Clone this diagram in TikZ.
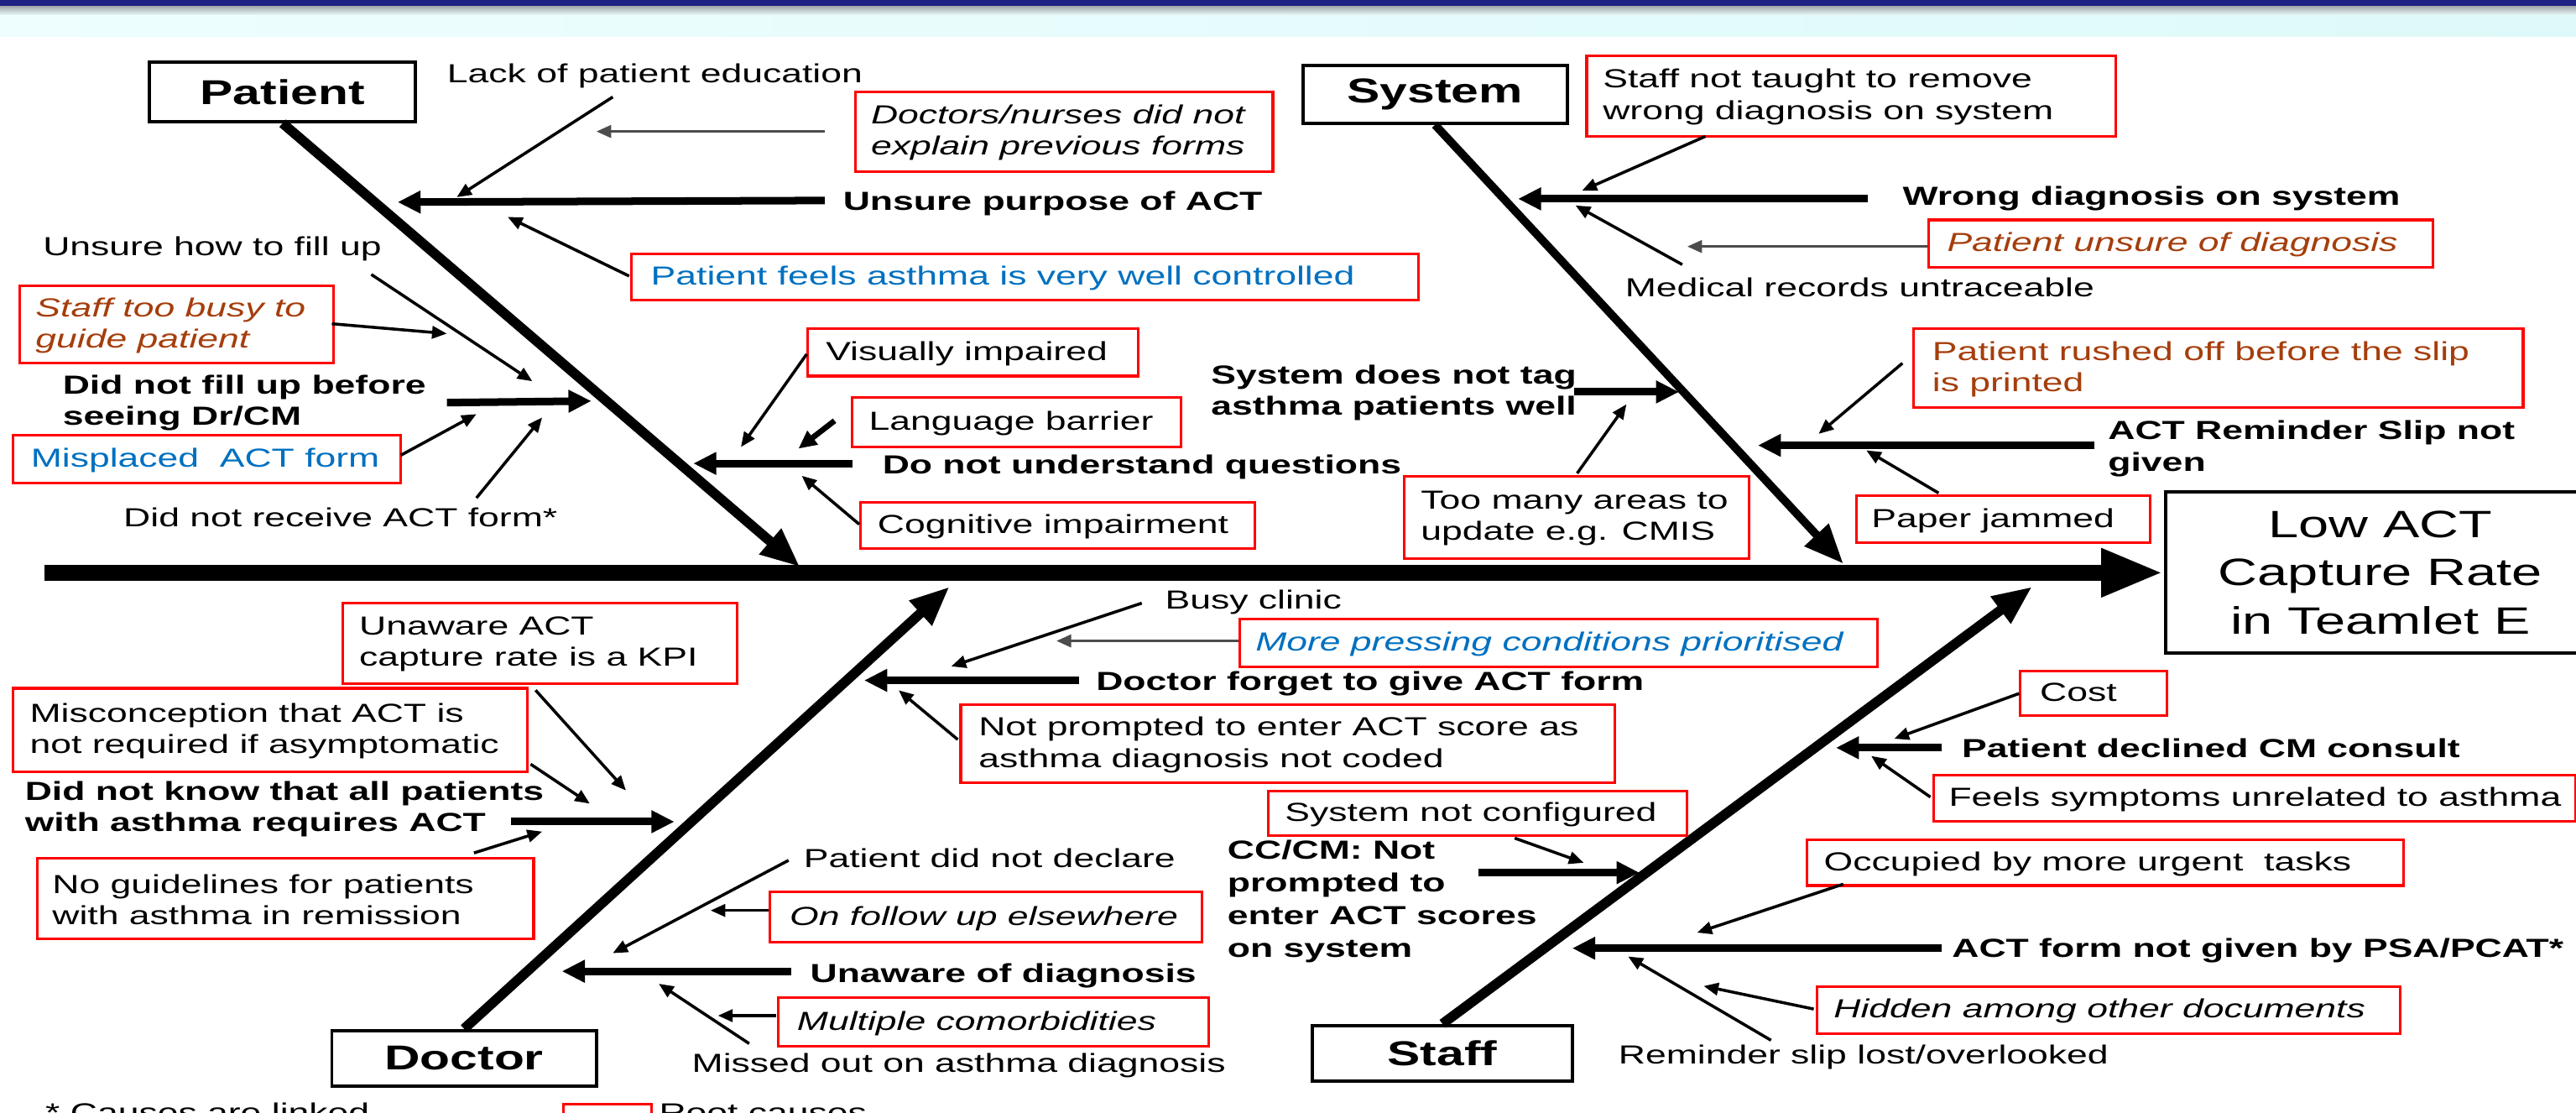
\documentclass[tikz,border=0pt]{standalone}
\usepackage{fontspec}
\setmainfont{Liberation Sans}[FakeStretch=1.43]
\usetikzlibrary{arrows.meta}
\definecolor{rbred}{RGB}{255,0,0}
\definecolor{txblue}{RGB}{0,112,192}
\definecolor{txbrown}{RGB}{165,62,12}
\definecolor{navyband}{RGB}{30,34,130}
\definecolor{cyanL}{RGB}{238,254,254}
\definecolor{cyanR}{RGB}{222,249,249}
\definecolor{shadowgr}{RGB}{165,172,176}
\newcommand\fsn{\fontsize{15.9}{19}\selectfont}
\newcommand\rb[5]{\node[rbox, minimum width={#4-#2}, minimum height={#5-#3}] (#1) at (#2,#3) {};}
\newcommand\arrw[4]{\coordinate (#2s) at (#3); \coordinate (#2e) at (#4); \draw[#1] (#2s) -- (#2e);}
\begin{document}
\begin{tikzpicture}[x=1pt,y=-1pt,
  lbl/.style={inner sep=0pt, align=left, font=\fsn},
  bl/.style={lbl, font=\fsn\bfseries},
  it/.style={lbl, font=\fsn\itshape},
  rbox/.style={draw=rbred, line width=1.6pt, inner sep=0pt, anchor=north west},
  catbox/.style={draw, line width=2pt, inner sep=0pt, font=\fontsize{21}{25}\selectfont\bfseries},
  tarr/.style={line width=1.8pt, -{Triangle[length=9pt,width=7.5pt]}},
  garr/.style={tarr, draw=black!70},
  marr/.style={line width=3.4pt, -{Triangle[length=11pt,width=10pt]}},
  karr/.style={line width=4.6pt, -{Triangle[length=14pt,width=13pt]}},
  bone/.style={line width=6pt, -{Triangle[length=24pt,width=19pt]}},
]
\useasboundingbox (0,0) rectangle (1568,677);
\fill[white] (0,0) rectangle (1568,677);
% top band
\fill[navyband] (0,0) rectangle (1568,4);
\shade[top color=shadowgr, bottom color=cyanL] (0,4) rectangle (1568,9.5);
\shade[left color=cyanL, right color=cyanR] (0,9.5) rectangle (1568,22);

% category boxes and effect
\node[catbox, minimum width=162, minimum height=36] (cPat) at (172,56) {Patient};
\node[catbox, minimum width=161, minimum height=35] (cSys) at (873.5,57.5) {System};
\node[catbox, minimum width=161, minimum height=34] (cDoc) at (282.5,644) {Doctor};
\node[catbox, minimum width=158, minimum height=34] (cSta) at (878,641) {Staff};
\node[draw, line width=2pt, minimum width=262, minimum height=98, align=center, inner sep=0pt,
  font=\fontsize{23.2}{29.5}\selectfont] (eff) at (1449,348.5) {Low ACT\\Capture Rate\\in Teamlet E};

% spine and bones
\coordinate (sp0) at (27,348.5);
\draw[line width=10pt, -{Triangle[length=38pt,width=27pt]}] (sp0) -- (eff.west);
\coordinate (pj) at (487,345);
\draw[bone] (cPat.south) -- (pj);
\coordinate (sj) at (1122,343);
\draw[bone, line width=5pt] (cSys.south) -- (sj);
\coordinate (dj) at (578,357);
\draw[bone] (cDoc.north) -- (dj);
\coordinate (tj) at (1237,357);
\draw[bone] (cSta.north) -- (tj);

% Patient branch
\node[lbl, anchor=base west] (t1) at (272,50.2) {Lack of patient education};
\rb{b2}{520}{55}{774}{103.5}
\node[it, anchor=west] (t2) at (530,80.8) {Doctors/nurses did not\\explain previous forms};
\node[bl, anchor=base west] (t3) at (513,127.7) {Unsure purpose of ACT};
\rb{b4}{383.5}{153.5}{862.5}{182}
\node[lbl, text=txblue, anchor=base west] (t4) at (396,173.5) {Patient feels asthma is very well controlled};
\node[lbl, anchor=base west] (t5) at (26,155.7) {Unsure how to fill up};
\rb{b6}{11}{173}{202}{220}
\node[it, text=txbrown, anchor=west] (t6) at (21.5,198) {Staff too busy to\\guide patient};
\node[bl, anchor=west] (t7) at (38,245) {Did not fill up before\\seeing Dr/CM};
\rb{b8}{7}{264}{243}{293}
\node[lbl, text=txblue, anchor=base west] (t8) at (18.6,284.2) {Misplaced\ \ ACT form};
\node[lbl, anchor=base west] (t9) at (75,320.7) {Did not receive ACT form*};
\rb{b10}{491}{199}{692}{228}
\node[lbl, anchor=base west] (t10) at (502.5,219.2) {Visually impaired};
\rb{b11}{518}{241}{718}{271}
\node[lbl, anchor=base west] (t11) at (528.7,261.7) {Language barrier};
\node[bl, anchor=base west] (t12) at (537,288.2) {Do not understand questions};
\rb{b13}{523}{305}{763}{333}
\node[lbl, anchor=base west] (t13) at (534,324.7) {Cognitive impairment};

% System branch
\rb{b14}{965}{33}{1287}{82}
\node[lbl, anchor=west] (t14) at (975.5,59) {Staff not taught to remove\\wrong diagnosis on system};
\node[bl, anchor=base west] (t15) at (1158,124.7) {Wrong diagnosis on system};
\rb{b16}{1173}{133}{1480}{162}
\node[it, text=txbrown, anchor=base west] (t16) at (1185,153.2) {Patient unsure of diagnosis};
\node[lbl, anchor=base west] (t17) at (989,180.7) {Medical records untraceable};
\node[bl, anchor=west] (t18) at (737,239) {System does not tag\\asthma patients well};
\rb{b19}{854}{289}{1064}{339}
\node[lbl, anchor=west] (t19) at (864.7,315.5) {Too many areas to\\update e.g. CMIS};
\rb{b20}{1164}{199}{1535}{247}
\node[lbl, text=txbrown, anchor=west] (t20) at (1176,224.5) {Patient rushed off before the slip\\is printed};
\node[bl, anchor=west] (t21) at (1283,273) {ACT Reminder Slip not\\given};
\rb{b22}{1129}{301}{1308}{329.5}
\node[lbl, anchor=base west] (t22) at (1139,321) {Paper jammed};

% Doctor branch
\node[lbl, anchor=base west] (t23) at (709,370.7) {Busy clinic};
\rb{b24}{754}{376}{1142}{405}
\node[it, text=txblue, anchor=base west] (t24) at (764,396.2) {More pressing conditions prioritised};
\node[bl, anchor=base west] (t25) at (667,420.2) {Doctor forget to give ACT form};
\rb{b26}{584}{428}{982}{475.5}
\node[lbl, anchor=west] (t26) at (595.5,453.3) {Not prompted to enter ACT score as\\asthma diagnosis not coded};
\rb{b27}{208}{366}{448}{415}
\node[lbl, anchor=west] (t27) at (218.5,392) {Unaware ACT\\capture rate is a KPI};
\rb{b28}{7}{418}{320}{469}
\node[lbl, anchor=west] (t28) at (18,445) {Misconception that ACT is\\not required if asymptomatic};
\node[bl, anchor=west] (t29) at (15,492.5) {Did not know that all patients\\with asthma requires ACT};
\rb{b30}{22}{521.5}{324}{570.5}
\node[lbl, anchor=west] (t30) at (31.7,547.5) {No guidelines for patients\\with asthma in remission};
\node[lbl, anchor=base west] (t31) at (489,527.7) {Patient did not declare};
\rb{b32}{468}{542}{731}{572.5}
\node[it, anchor=base west] (t32) at (480.5,563) {On follow up elsewhere};
\node[bl, anchor=base west] (t33) at (493,597.7) {Unaware of diagnosis};
\rb{b34}{473}{606}{735}{636}
\node[it, anchor=base west] (t34) at (485,626.7) {Multiple comorbidities};
\node[lbl, anchor=base west] (t35) at (421,652.7) {Missed out on asthma diagnosis};

% Staff branch
\rb{b36}{1229}{407.5}{1318}{434.5}
\node[lbl, anchor=base west] (t36) at (1241.5,426.7) {Cost};
\node[bl, anchor=base west] (t37) at (1194,460.7) {Patient declined CM consult};
\rb{b38}{1176}{471}{1567}{499}
\node[lbl, anchor=base west] (t38) at (1186,490.7) {Feels symptoms unrelated to asthma};
\rb{b39}{771}{480.5}{1026}{507.6}
\node[lbl, anchor=base west] (t39) at (782,499.7) {System not configured};
\node[bl, anchor=west, font=\fontsize{15.9}{20}\selectfont\bfseries] (t40) at (747,548.5) {CC/CM: Not\\prompted to\\enter ACT scores\\on system};
\rb{b41}{1099}{510}{1462}{538}
\node[lbl, anchor=base west] (t41) at (1110,529.7) {Occupied by more urgent\ \ tasks};
\node[bl, anchor=base west] (t42) at (1188,582.7) {ACT form not given by PSA/PCAT*};
\rb{b43}{1105}{599.5}{1460}{628}
\node[it, anchor=base west] (t43) at (1116,619.5) {Hidden among other documents};
\node[lbl, anchor=base west] (t44) at (985,647.2) {Reminder slip lost/overlooked};

% legend
\node[lbl, anchor=base west] (n1) at (27.5,682.4) {* Causes are linked};
\rb{lg}{342}{671}{396}{700}
\node[lbl, anchor=base west] (n2) at (401,682.4) {Root causes};

% arrows
\arrw{tarr}{a1}{373,59}{278,120}
\arrw{garr}{a2}{502,80}{363,80}
\arrw{karr}{a3}{502,122}{242,123}
\arrw{tarr}{a4}{383,168}{309,132}
\arrw{tarr}{a5}{226,167}{324,232}
\arrw{tarr}{a6}{202,197}{272,203}
\arrw{karr}{a7}{272,245}{360,244}
\arrw{tarr}{a8}{244,277}{290,252}
\arrw{tarr}{a9}{290,303}{330,254}
\arrw{tarr}{a10}{491,215.5}{451,272}
\arrw{marr}{a11}{508,256}{486,273}
\arrw{karr}{a12}{519,282}{422,282}
\arrw{tarr}{a13}{523,319}{488,289.5}
\arrw{tarr}{a14}{1038,83}{963,116}
\arrw{karr}{a15}{1137,121}{924,121}
\arrw{garr}{a16}{1173,150}{1027,150}
\arrw{tarr}{a17}{1024,161}{959,125}
\arrw{karr}{a18}{958,238.5}{1022,238.5}
\arrw{tarr}{a19}{960,288}{990,246}
\arrw{tarr}{a20}{1158,221}{1107,264}
\arrw{karr}{a21}{1275,271}{1070,271}
\arrw{tarr}{a22}{1180,300}{1136,274}
\arrw{tarr}{a23}{695,367}{579,405.5}
\arrw{garr}{a24}{754,390}{643,390}
\arrw{karr}{a25}{657,414}{526,414}
\arrw{tarr}{a26}{583,450}{547,420}
\arrw{tarr}{a27}{326,420}{381,481}
\arrw{tarr}{a28}{323,465}{359,489}
\arrw{karr}{a29}{311,500}{410.5,500}
\arrw{tarr}{a30}{288.5,519}{330,506}
\arrw{tarr}{a31}{480,523.5}{373,580}
\arrw{tarr}{a32}{468,554}{432.5,554}
\arrw{karr}{a33}{481.5,591}{342,591}
\arrw{tarr}{a34}{472.5,618}{437,618}
\arrw{tarr}{a35}{456,635}{401,598.6}
\arrw{tarr}{a36}{1229,422}{1153,449.5}
\arrw{karr}{a37}{1182,455}{1117.5,455}
\arrw{tarr}{a38}{1175,485}{1139,460}
\arrw{tarr}{a39}{922,510}{964,525}
\arrw{karr}{a40}{900,531}{998,531}
\arrw{tarr}{a41}{1122,538}{1033,567.5}
\arrw{karr}{a42}{1182,577}{957,577}
\arrw{tarr}{a43}{1104,614}{1037,600}
\arrw{tarr}{a44}{1078,633}{991,582}
\end{tikzpicture}
\end{document}
